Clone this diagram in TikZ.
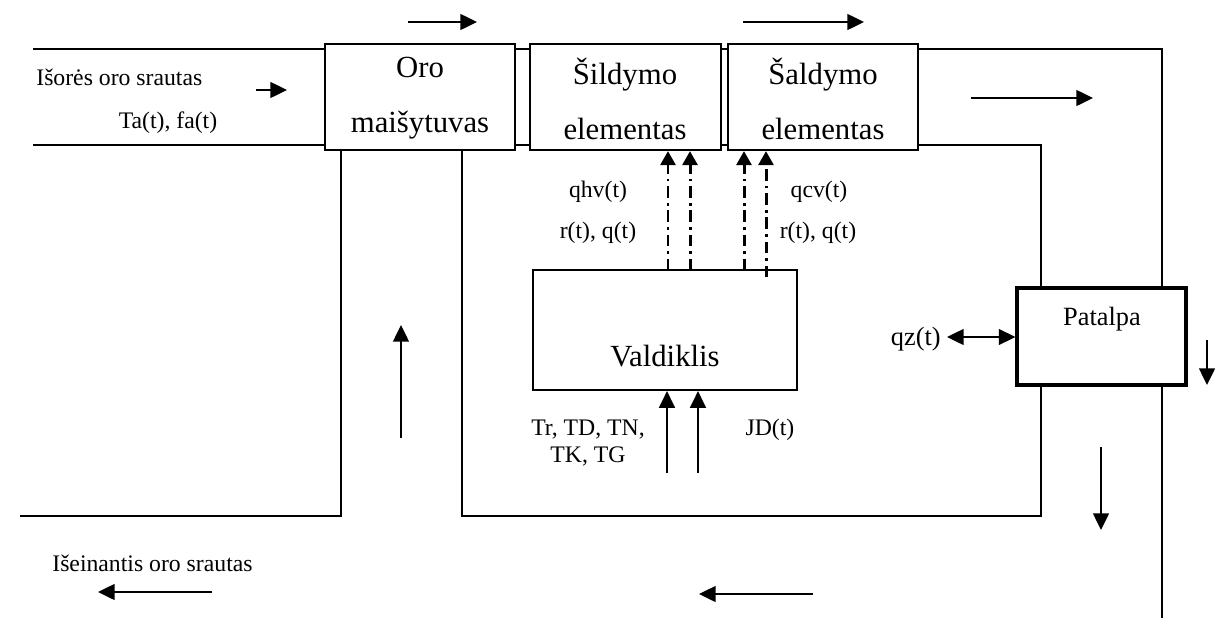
\documentclass[tikz,border=0pt]{standalone}
\usepackage{fontspec}
\setmainfont{Liberation Serif}
\usetikzlibrary{arrows.meta,calc}

\tikzset{
  duct/.style={line width=1.25pt},
  unitbox/.style={draw, line width=1.25pt, inner sep=0pt, fill=white},
  bigtext/.style={font=\fontsize{17.5}{21}\selectfont, inner sep=0pt, anchor=base},
  midtext/.style={font=\fontsize{15}{18}\selectfont, inner sep=0pt, anchor=base},
  smalltext/.style={font=\fontsize{13.5}{16}\selectfont, inner sep=0pt, anchor=base},
  flow/.style={line width=1.2pt, -{Triangle[length=9.5pt,width=9pt]}},
  both/.style={line width=1.2pt, {Triangle[length=9.5pt,width=9pt]}-{Triangle[length=9.5pt,width=9pt]}},
  signal/.style={line width=1.7pt, dash pattern=on 6.5pt off 2.8pt on 1.6pt off 2.8pt,
                 -{Triangle[length=8pt,width=8.5pt]}}
}

\begin{document}
\begin{tikzpicture}[x=0.02cm, y=-0.02cm]
\useasboundingbox (0,0) rectangle (1221,619);

% ---- units of the air handling line ----
\node[unitbox, minimum width=3.8cm, minimum height=2.12cm] (mix)  at (420,97)  {};
\node[unitbox, minimum width=3.82cm, minimum height=2.12cm] (heat) at (625.5,97) {};
\node[unitbox, minimum width=3.8cm, minimum height=2.12cm] (cool) at (823,97)  {};
\node[unitbox, minimum width=5.28cm, minimum height=2.4cm] (ctrl) at (665,330) {};
\node[unitbox, line width=1.8pt, minimum width=3.38cm, minimum height=1.94cm] (room) at (1101.5,336.5) {};

\node[bigtext] (mixA)  at (420,77)  {Oro};
\node[bigtext] (mixB)  at (420,132) {maišytuvas};
\node[bigtext] (heatA) at (625,84)  {Šildymo};
\node[bigtext] (heatB) at (625,139) {elementas};
\node[bigtext] (coolA) at (823,84)  {Šaldymo};
\node[bigtext] (coolB) at (823,139) {elementas};
\node[bigtext] (ctrlT) at (665,366) {Valdiklis};
\node[midtext] (roomT) at (1102,325) {Patalpa};

% ---- duct walls ----
\coordinate (inTop) at (33,49);
\coordinate (inBot) at (33,145);
\coordinate (retEnd) at (20,516);
\coordinate (retL) at (341,516);
\coordinate (retR) at (462,516);
\coordinate (supO) at (1162,49);
\coordinate (supI) at (1041,145);
\coordinate (outEnd) at (1162,618);

\draw[duct] (inTop) -- (inTop -| mix.west);
\draw[duct] (inBot) -- (inBot -| mix.west);
\draw[duct] (mix.east |- inTop) -- (heat.west |- inTop);
\draw[duct] (mix.east |- inBot) -- (heat.west |- inBot);
\draw[duct] (heat.east |- inTop) -- (cool.west |- inTop);
\draw[duct] (heat.east |- inBot) -- (cool.west |- inBot);
\draw[duct] (cool.east |- supO) -- (supO) -- (supO |- room.north);
\draw[duct] (cool.east |- supI) -- (supI) -- (supI |- room.north);
\draw[duct] (supO |- room.south) -- (outEnd);
\draw[duct] (supI |- room.south) |- (retR) -- (retR |- mix.south);
\draw[duct] (retEnd) -- (retL) -- (retL |- mix.south);

% ---- air flow arrows ----
\coordinate (f1a) at (408,22);  \coordinate (f1b) at (477,22);
\coordinate (f2a) at (743,22);  \coordinate (f2b) at (864,22);
\coordinate (f3a) at (256,90);  \coordinate (f3b) at (287,90);
\coordinate (f4a) at (971,98);  \coordinate (f4b) at (1093,98);
\coordinate (f5a) at (401,438); \coordinate (f5b) at (401,325);
\coordinate (f6a) at (1207,340);\coordinate (f6b) at (1207,385);
\coordinate (f7a) at (1101,447);\coordinate (f7b) at (1101,530);
\coordinate (f8a) at (813,594); \coordinate (f8b) at (699,594);
\coordinate (f9a) at (212,592); \coordinate (f9b) at (98,592);
\foreach \n in {1,...,9} \draw[flow] (f\n a) -- (f\n b);

% ---- control signals ----
\coordinate (s1) at (668,270); \coordinate (s2) at (690,270);
\coordinate (s3) at (744,270); \coordinate (s4) at (766,277);
\draw[signal] (s1) -- (s1 |- heat.south);
\draw[signal] (s2) -- (s2 |- heat.south);
\draw[signal] (s3) -- (s3 |- cool.south);
\draw[signal] (s4) -- (s4 |- cool.south);

% ---- controller inputs ----
\coordinate (i1) at (667,473); \coordinate (i2) at (698,473);
\draw[flow] (i1) -- (i1 |- ctrl.south);
\draw[flow] (i2) -- (i2 |- ctrl.south);

% ---- heat exchange of the room ----
\node[midtext, anchor=base east] (qz) at (941,345) {qz(t)};
\coordinate (qzEnd) at (947,337);
\draw[both] (qzEnd) -- (qzEnd -| room.west);

% ---- labels ----
\node[smalltext, anchor=base west] (lIn)  at (36,85)  {Išorės oro srautas};
\node[smalltext] (lInV) at (168,128) {Ta(t), fa(t)};
\node[smalltext, anchor=base west] (lOut) at (52,571) {Išeinantis oro srautas};
\node[smalltext] (lH1) at (598,197) {qhv(t)};
\node[smalltext] (lH2) at (598,238) {r(t), q(t)};
\node[smalltext] (lC1) at (819,197) {qcv(t)};
\node[smalltext] (lC2) at (818,238) {r(t), q(t)};
\node[smalltext] (lT1) at (588,435) {Tr, TD, TN,};
\node[smalltext] (lT2) at (588,462) {TK, TG};
\node[smalltext] (lJD) at (770,435) {JD(t)};
\end{tikzpicture}
\end{document}
